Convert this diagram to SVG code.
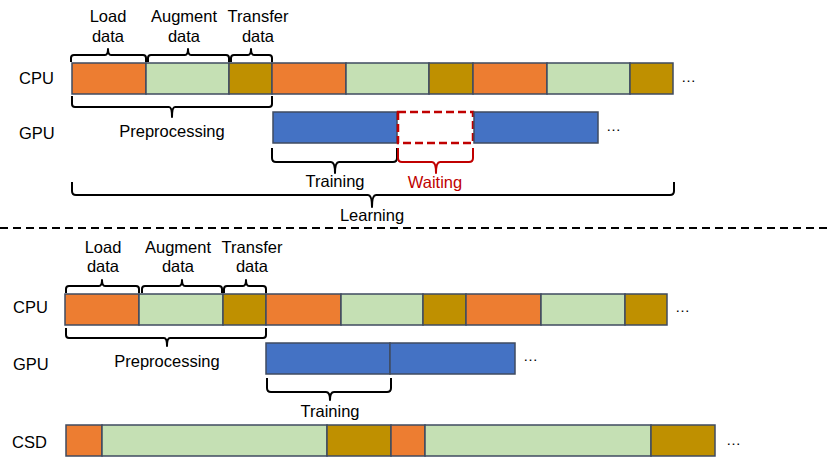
<svg xmlns="http://www.w3.org/2000/svg" width="830" height="463" viewBox="0 0 830 463">
<style>
text{font-family:"Liberation Sans",Arial,sans-serif;font-size:16.5px;fill:#000}
.m{text-anchor:middle}
.b{stroke:#3F4B60;stroke-width:1.5}
.or{fill:#ED7D31}.gr{fill:#C5E0B4}.go{fill:#BF9000}.bl{fill:#4472C4}
.br{fill:none;stroke:#000;stroke-width:2;stroke-linejoin:round}
.red{stroke:#C00000}
.dots{font-size:15px}
</style>
<rect width="830" height="463" fill="#fff"/>
<g id="top-labels">
<text class="m" x="108" y="22">Load</text><text class="m" x="108" y="42">data</text>
<text class="m" x="184" y="22">Augment</text><text class="m" x="184" y="42">data</text>
<text class="m" x="258" y="22">Transfer</text><text class="m" x="258" y="42">data</text>
<text x="19" y="84">CPU</text>
<text x="19" y="139">GPU</text>
</g>
<g id="top-cpu">
<rect class="b or" x="72" y="63" width="74" height="31"/>
<rect class="b gr" x="146" y="63" width="83" height="31"/>
<rect class="b go" x="229" y="63" width="43" height="31"/>
<rect class="b or" x="272" y="63" width="74" height="31"/>
<rect class="b gr" x="346" y="63" width="83" height="31"/>
<rect class="b go" x="429" y="63" width="44" height="31"/>
<rect class="b or" x="473" y="63" width="74" height="31"/>
<rect class="b gr" x="547" y="63" width="83" height="31"/>
<rect class="b go" x="630" y="63" width="43" height="31"/>
<text class="dots" x="681" y="82">…</text>
</g>
<g id="top-gpu">
<rect class="b bl" x="273" y="112" width="124" height="31"/>
<rect x="398" y="112" width="75" height="31" fill="none" stroke="#C00000" stroke-width="2.5" stroke-dasharray="8,4"/>
<rect class="b bl" x="474" y="112" width="124" height="31"/>
<text class="dots" x="606" y="131">…</text>
</g>
<g id="top-braces">
<path class="br" d="M71,62 L71,58 Q71,55 74,55 L105,55 Q108,55 108,49 Q108,55 111,55 L143,55 Q146,55 146,58 L146,62"/>
<path class="br" d="M148,62 L148,58 Q148,55 151,55 L185,55 Q188,55 188,49 Q188,55 191,55 L226,55 Q229,55 229,58 L229,62"/>
<path class="br" d="M231,62 L231,58 Q231,55 234,55 L248,55 Q251,55 251,49 Q251,55 254,55 L269,55 Q272,55 272,58 L272,62"/>
<path class="br" d="M72,96 L72,104 Q72,107 75,107 L169,107 Q172,107 172,117 Q172,107 175,107 L269,107 Q272,107 272,104 L272,96"/>
<text class="m" x="172" y="137">Preprocessing</text>
<path class="br" d="M272,148 L272,158 Q272,162 276,162 L331,162 Q335,162 335,173 Q335,162 339,162 L393,162 Q397,162 397,158 L397,148"/>
<text class="m" x="335" y="187">Training</text>
<path class="br red" d="M398,148 L398,158 Q398,162 402,162 L432,162 Q436,162 436,173 Q436,162 440,162 L469,162 Q473,162 473,158 L473,148"/>
<text class="m" x="435" y="188" style="fill:#C00000">Waiting</text>
<path class="br" d="M72,182 L72,191 Q72,195 76,195 L368,195 Q372,195 372,207 Q372,195 376,195 L670,195 Q674,195 674,191 L674,182"/>
<text class="m" x="372" y="221">Learning</text>
</g>
<g id="separator">
<line x1="0" y1="228" x2="830" y2="228" stroke="#000" stroke-width="2" stroke-dasharray="8,5"/>
</g>
<g id="bottom-labels">
<text class="m" x="103" y="253">Load</text><text class="m" x="103" y="272">data</text>
<text class="m" x="178" y="253">Augment</text><text class="m" x="178" y="272">data</text>
<text class="m" x="252" y="253">Transfer</text><text class="m" x="252" y="272">data</text>
<text x="13" y="313">CPU</text>
<text x="13" y="370">GPU</text>
<text x="12" y="448">CSD</text>
</g>
<g id="bottom-cpu">
<rect class="b or" x="65" y="294" width="74" height="31"/>
<rect class="b gr" x="139" y="294" width="84" height="31"/>
<rect class="b go" x="223" y="294" width="43" height="31"/>
<rect class="b or" x="266" y="294" width="75" height="31"/>
<rect class="b gr" x="341" y="294" width="82" height="31"/>
<rect class="b go" x="423" y="294" width="43" height="31"/>
<rect class="b or" x="466" y="294" width="75" height="31"/>
<rect class="b gr" x="541" y="294" width="84" height="31"/>
<rect class="b go" x="625" y="294" width="42" height="31"/>
<text class="dots" x="675" y="312">…</text>
</g>
<g id="bottom-gpu">
<rect class="b bl" x="266" y="343" width="124" height="31"/>
<rect class="b bl" x="390" y="343" width="125" height="31"/>
<text class="dots" x="523" y="361">…</text>
</g>
<g id="bottom-csd">
<rect class="b or" x="66" y="425" width="36" height="31"/>
<rect class="b gr" x="102" y="425" width="225" height="31"/>
<rect class="b go" x="327" y="425" width="64" height="31"/>
<rect class="b or" x="391" y="425" width="34" height="31"/>
<rect class="b gr" x="425" y="425" width="226" height="31"/>
<rect class="b go" x="651" y="425" width="64" height="31"/>
<text class="dots" x="726" y="445">…</text>
</g>
<g id="bottom-braces">
<path class="br" d="M66,293 L66,289 Q66,286 69,286 L99,286 Q102,286 102,280 Q102,286 105,286 L136,286 Q139,286 139,289 L139,293"/>
<path class="br" d="M142,293 L142,289 Q142,286 145,286 L179,286 Q182,286 182,280 Q182,286 185,286 L219,286 Q222,286 222,289 L222,293"/>
<path class="br" d="M224,293 L224,289 Q224,286 227,286 L243,286 Q246,286 246,280 Q246,286 249,286 L263,286 Q266,286 266,289 L266,293"/>
<path class="br" d="M66,328 L66,335 Q66,338 69,338 L164,338 Q167,338 167,346 Q167,338 170,338 L263,338 Q266,338 266,335 L266,328"/>
<text class="m" x="167" y="367">Preprocessing</text>
<path class="br" d="M267,378 L267,388 Q267,392 271,392 L326,392 Q330,392 330,400 Q330,392 334,392 L387,392 Q391,392 391,388 L391,378"/>
<text class="m" x="330" y="417">Training</text>
</g>
</svg>
